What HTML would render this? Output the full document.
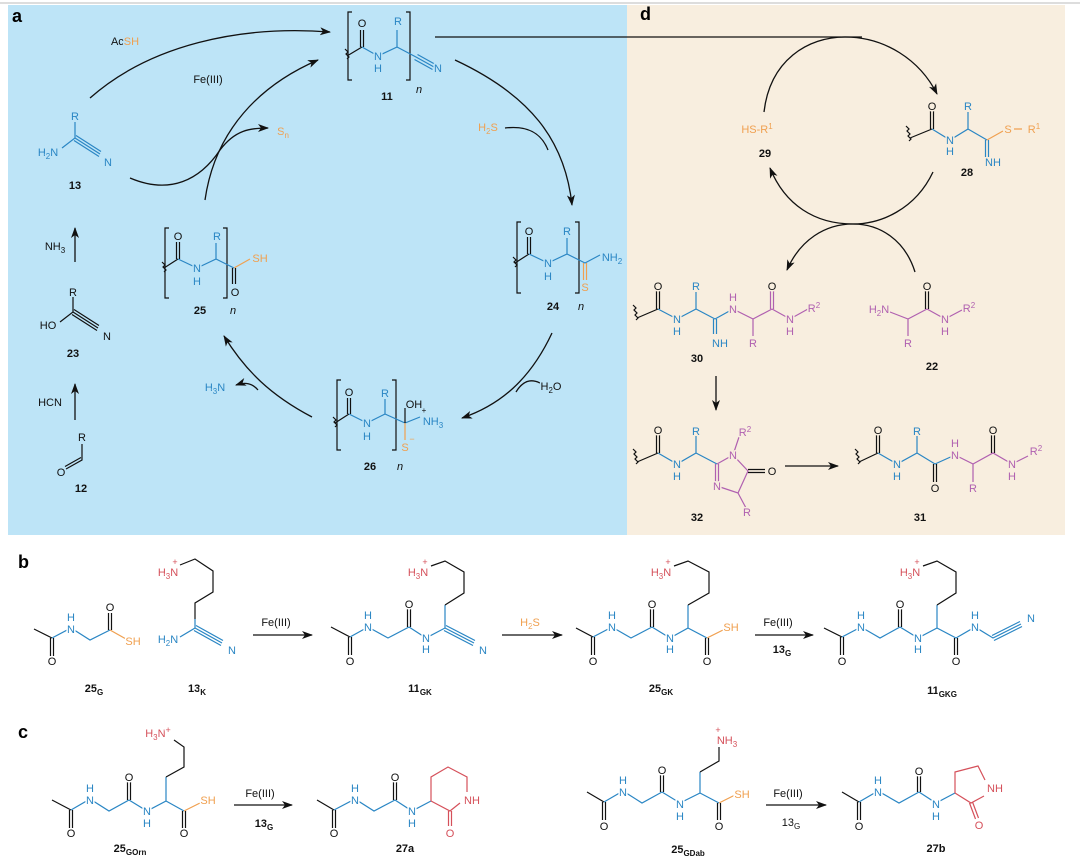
<!DOCTYPE html>
<html><head><meta charset="utf-8"><style>
body{margin:0;background:#fff;}
svg{display:block;font-family:"Liberation Sans",sans-serif;}
text{font-size:11px;text-anchor:middle;paint-order:stroke;stroke-width:3px;stroke-linejoin:round;}
.ga text{stroke:#bde4f7}.gd text{stroke:#f8eedf}.gw text{stroke:#fff}
.k{fill:#111}.b{fill:#2a86c4}.o{fill:#f0a050}.p{fill:#b060b0}.r{fill:#d5505a}
.lb{font-weight:bold;fill:#111}
.pl{font-weight:bold;font-size:18px;text-anchor:start}
path{fill:none;stroke-width:1.2}
path.head{fill:#111;stroke:none}
.sk{stroke:#111}.sb{stroke:#2a86c4}.so{stroke:#f0a050}.sp{stroke:#b060b0}.sr{stroke:#d5505a}
.ar{stroke:#111;stroke-width:1.3}
tspan.s{font-size:8px}
</style></head><body>
<svg width="1080" height="865" viewBox="0 0 1080 865">
<defs><marker id="ah" markerWidth="11" markerHeight="8" refX="10" refY="4" orient="auto" markerUnits="userSpaceOnUse"><path class="head" d="M0,0 L11,4 L0,8 L3,4z"/></marker></defs>
<rect x="0" y="2" width="1080" height="2" fill="#ddd"/>
<rect x="8" y="5" width="619" height="530" fill="#bde4f7"/>
<rect x="627" y="5" width="438" height="530" fill="#f8eedf"/>

<!-- PANEL A -->
<g class="ga">
<text x="12" y="22" class="pl" style="stroke:none">a</text>
<path class="ar" d="M90,98 C150,45 240,25 330,32" marker-end="url(#ah)"/>
<path class="ar" d="M205,200 C215,130 260,85 318,60" marker-end="url(#ah)"/>
<path class="ar" d="M130,178 C170,195 200,180 220,150 C235,130 250,128 268,128" marker-end="url(#ah)"/>
<path class="ar" d="M455,60 C530,95 565,140 572,205" marker-end="url(#ah)"/>
<path class="ar" d="M505,128 C530,125 542,135 548,150"/>
<path class="ar" d="M552,333 C530,380 500,405 462,418" marker-end="url(#ah)"/>
<path class="ar" d="M540,383 C530,378 522,382 516,392"/>
<path class="ar" d="M312,417 C270,395 245,370 224,336" marker-end="url(#ah)"/>
<path class="ar" d="M258,390 C252,383 245,382 236,385" marker-end="url(#ah)"/>
<path class="ar" d="M75,262 L75,228" marker-end="url(#ah)"/>
<path class="ar" d="M75,420 L75,384" marker-end="url(#ah)"/>
<path class="ar" d="M435,37 L862,37"/>
<text x="125" y="45" class="k">Ac<tspan class="o">SH</tspan></text>
<text x="208" y="83" class="k">Fe(III)</text>
<text x="283" y="135" class="o">S<tspan class="s" dy="3">n</tspan></text>
<text x="488" y="131" class="o">H<tspan class="s" dy="3">2</tspan><tspan dy="-3">S</tspan></text>
<text x="551" y="390" class="k">H<tspan class="s" dy="3">2</tspan><tspan dy="-3">O</tspan></text>
<text x="215" y="391" class="b">H<tspan class="s" dy="3">3</tspan><tspan dy="-3">N</tspan></text>
<text x="55" y="250" class="k">NH<tspan class="s" dy="3">3</tspan></text>
<text x="50" y="406" class="k">HCN</text>

<!-- 11 -->
<path class="sk" d="M352,12 h-4 v68 h4 M406,12 h4 v68 h-4"/>
<path class="sk" d="M345,49 l3,3 -2,2 3,3 -2,2 M347,56 L362,47 M360.5,47 V30 M363.5,47 V30"/>
<path class="sb" d="M362,47 L378,56 L397,47 V30 M397,47 L416,57 M416,57 L434,67 M417.5,54.5 L435.5,64.5 M414.5,59.5 L432.5,69.5"/>
<text x="362" y="27" class="k">O</text><text x="378" y="60" class="b">N</text><text x="378" y="72" class="b">H</text>
<text x="398" y="25" class="b">R</text><text x="438" y="72" class="b">N</text>
<text x="387" y="100" class="lb">11</text><text x="419" y="93" class="k" style="font-style:italic">n</text>

<!-- 13 -->
<path class="sb" d="M62,148 L75,138 V122 M75,138 L100,154 M76,135.5 L101,151.5 M74,140.5 L99,156.5"/>
<text x="75" y="120" class="b">R</text><text x="48" y="156" class="b">H<tspan class="s" dy="3">2</tspan><tspan dy="-3">N</tspan></text>
<text x="108" y="166" class="b">N</text><text x="75" y="189" class="lb">13</text>
<!-- 23 -->
<path class="sk" d="M60,322 L73,312 V297 M73,312 L98,328 M74,309.5 L99,325.5 M72,314.5 L97,330.5"/>
<text x="73" y="296" class="k">R</text><text x="48" y="329" class="k">HO</text>
<text x="107" y="340" class="k">N</text><text x="73" y="357" class="lb">23</text>
<!-- 12 -->
<path class="sk" d="M82,444 V460 L66,469 M81,457.5 L65,466.5"/>
<text x="82" y="441" class="k">R</text><text x="61" y="476" class="k">O</text><text x="81" y="492" class="lb">12</text>

<!-- 25 -->
<path class="sk" d="M169,228 h-4 v70 h4 M223,228 h4 v70 h-4"/>
<path class="sk" d="M162,262 l3,3 -2,2 3,3 -2,2 M164,268 L178,259 M176.5,259 V242 M179.5,259 V242"/>
<path class="sb" d="M178,259 L197,268 L216,259 V243 M216,259 L234,268"/>
<path class="sk" d="M232.5,268 V284 M235.5,268 V284"/>
<path class="so" d="M234,268 L250,259"/>
<text x="178" y="240" class="k">O</text><text x="197" y="272" class="b">N</text><text x="197" y="285" class="b">H</text>
<text x="217" y="240" class="b">R</text><text x="260" y="262" class="o">SH</text><text x="235" y="296" class="k">O</text>
<text x="200" y="314" class="lb">25</text><text x="233" y="314" class="k" style="font-style:italic">n</text>

<!-- 24 -->
<path class="sk" d="M521,222 h-4 v71 h4 M575,222 h4 v71 h-4"/>
<path class="sk" d="M513,257 l3,3 -2,2 3,3 -2,2 M515,263 L529,254 M527.5,254 V237 M530.5,254 V237"/>
<path class="sb" d="M529,254 L548,263 L567,254 V238 M567,254 L585,263 L600,255"/>
<path class="so" d="M583.5,263 V280 M586.5,263 V280"/>
<text x="529" y="235" class="k">O</text><text x="548" y="267" class="b">N</text><text x="548" y="280" class="b">H</text>
<text x="567" y="235" class="b">R</text><text x="612" y="261" class="b">NH<tspan class="s" dy="3">2</tspan></text>
<text x="585" y="291" class="o">S</text>
<text x="553" y="310" class="lb">24</text><text x="581" y="310" class="k" style="font-style:italic">n</text>

<!-- 26 -->
<path class="sk" d="M341,380 h-4 v70 h4 M392,380 h4 v70 h-4"/>
<path class="sk" d="M333,417 l3,3 -2,2 3,3 -2,2 M335,423 L349,414 M347.5,414 V398 M350.5,414 V398"/>
<path class="sb" d="M349,414 L367,423 L385,414 V399 M385,414 L405,423 L420,417"/>
<path class="sk" d="M405,423 V408"/>
<path class="so" d="M405,423 V440"/>
<text x="349" y="396" class="k">O</text><text x="367" y="427" class="b">N</text><text x="367" y="440" class="b">H</text>
<text x="385" y="397" class="b">R</text><text x="414" y="408" class="k">OH</text>
<text x="433" y="425" class="b">NH<tspan class="s" dy="3">3</tspan></text><text x="424" y="413" class="k" style="font-size:8px">+</text>
<text x="405" y="451" class="o">S</text><text x="412" y="442" class="o" style="font-size:9px">−</text>
<text x="370" y="470" class="lb">26</text><text x="400" y="470" class="k" style="font-style:italic">n</text>
</g>

<!-- PANEL D -->
<g class="gd">
<text x="640" y="20" class="pl" style="stroke:none">d</text>
<path class="ar" d="M764,112 C770,60 808,37 845,37 C885,37 920,60 937,94" marker-end="url(#ah)"/>
<path class="ar" d="M933,172 C915,210 880,224 853,224 C815,224 785,205 770,168" marker-end="url(#ah)"/>
<path class="ar" d="M915,272 C905,240 880,224 853,224 C825,224 800,240 787,270" marker-end="url(#ah)"/>
<path class="ar" d="M716,376 V410" marker-end="url(#ah)"/>
<path class="ar" d="M785,466 H838" marker-end="url(#ah)"/>
<text x="757" y="133" class="o">HS-R<tspan class="s" dy="-4">1</tspan></text>
<text x="765" y="157" class="lb">29</text>
<!-- 28 -->
<path class="sk" d="M906,126 l3,3 -2,2 3,3 -2,2 3,3 -2,2 M910,138 L932,129 M930.5,129 V111 M933.5,129 V111"/>
<path class="sb" d="M932,129 L950,140 L968,129 V112 M968,129 L987,140 M985.5,140 V157 M988.5,140 V157"/>
<path class="so" d="M987,140 L1003,131 M1014,129 H1022"/>
<text x="932" y="110" class="k">O</text><text x="950" y="144" class="b">N</text><text x="950" y="155" class="b">H</text>
<text x="968" y="110" class="b">R</text><text x="1008" y="133" class="o">S</text><text x="1034" y="133" class="o">R<tspan class="s" dy="-4">1</tspan></text>
<text x="993" y="166" class="b">NH</text><text x="967" y="176" class="lb">28</text>
<!-- 30 -->
<path class="sk" d="M633,305 l3,3 -2,2 3,3 -2,2 3,3 -2,2 M637,318 L658,309 M656.5,309 V291 M659.5,309 V291"/>
<path class="sb" d="M658,309 L677,319 L696,309 V292 M696,309 L715,319 M713.5,319 V334 M716.5,319 V334 M715,319 L733,309"/>
<path class="sp" d="M733,309 L753,319 V336 M753,319 L772,309 M770.5,309 V291 M773.5,309 V291 M772,309 L790,319 L808,309"/>
<text x="658" y="290" class="k">O</text><text x="677" y="323" class="b">N</text><text x="677" y="335" class="b">H</text>
<text x="696" y="290" class="b">R</text><text x="720" y="347" class="b">NH</text>
<text x="733" y="313" class="p">N</text><text x="733" y="301" class="p">H</text>
<text x="753" y="347" class="p">R</text><text x="772" y="290" class="k">O</text>
<text x="790" y="323" class="p">N</text><text x="790" y="335" class="p">H</text>
<text x="814" y="312" class="p">R<tspan class="s" dy="-4">2</tspan></text>
<text x="697" y="362" class="lb">30</text>
<!-- 22 -->
<path class="sp" d="M890,312 L908,319 V336 M908,319 L927,309 M945,319 L962,310"/>
<path class="sk" d="M925.5,309 V291 M928.5,309 V291"/>
<path class="sp" d="M927,309 L945,319"/>
<text x="879" y="313" class="p">H<tspan class="s" dy="3">2</tspan><tspan dy="-3">N</tspan></text>
<text x="927" y="290" class="k">O</text><text x="945" y="323" class="p">N</text><text x="945" y="335" class="p">H</text>
<text x="969" y="312" class="p">R<tspan class="s" dy="-4">2</tspan></text><text x="908" y="347" class="p">R</text>
<text x="932" y="370" class="lb">22</text>
<!-- 32 -->
<path class="sk" d="M633,449 l3,3 -2,2 3,3 -2,2 3,3 -2,2 M637,462 L658,453 M656.5,453 V435 M659.5,453 V435"/>
<path class="sb" d="M658,453 L677,464 L696,453 V436 M696,453 L717,464"/>
<path class="sp" d="M717,464 L733,455 L748,471 L738,493 L717,486 M733,455 L739,437 M738,493 L746,508 M715.5,464 V484 M718.5,464 V484"/>
<path class="sk" d="M748,469.5 H765 M748,472.5 H765"/>
<text x="658" y="434" class="k">O</text><text x="677" y="468" class="b">N</text><text x="677" y="480" class="b">H</text>
<text x="696" y="435" class="b">R</text><text x="733" y="459" class="p">N</text>
<text x="745" y="436" class="p">R<tspan class="s" dy="-4">2</tspan></text><text x="772" y="475" class="k">O</text>
<text x="717" y="490" class="p">N</text><text x="747" y="516" class="p">R</text>
<text x="697" y="521" class="lb">32</text>
<!-- 31 -->
<path class="sk" d="M855,449 l3,3 -2,2 3,3 -2,2 3,3 -2,2 M859,462 L878,453 M876.5,453 V435 M879.5,453 V435"/>
<path class="sb" d="M878,453 L897,464 L917,453 V436 M917,453 L935,464 L955,455"/>
<path class="sk" d="M933.5,464 V482 M936.5,464 V482 M991.5,453 V435 M994.5,453 V435"/>
<path class="sp" d="M955,455 L973,464 V482 M973,464 L993,453 L1012,464 L1028,456"/>
<text x="878" y="434" class="k">O</text><text x="897" y="468" class="b">N</text><text x="897" y="480" class="b">H</text>
<text x="917" y="435" class="b">R</text><text x="935" y="492" class="k">O</text>
<text x="955" y="459" class="p">N</text><text x="955" y="447" class="p">H</text>
<text x="973" y="492" class="p">R</text><text x="993" y="434" class="k">O</text>
<text x="1012" y="468" class="p">N</text><text x="1012" y="480" class="p">H</text>
<text x="1036" y="455" class="p">R<tspan class="s" dy="-4">2</tspan></text>
<text x="920" y="521" class="lb">31</text>
</g>

<!-- PANEL B -->
<g class="gw">
<text x="18" y="568" class="pl" style="stroke:none">b</text>
<path class="sk" d="M34,629 L52,638 M50.5,638 V656 M53.5,638 V656"/>
<path class="sb" d="M52,638 L71,628 L90,640 L110,630"/>
<path class="sk" d="M108.5,630 V613 M111.5,630 V613"/>
<path class="so" d="M110,630 L126,639"/>
<text x="52" y="665" class="k">O</text><text x="71" y="633" class="b">N</text><text x="71" y="621" class="b">H</text>
<text x="110" y="611" class="k">O</text><text x="133" y="645" class="o">SH</text>
<text x="94" y="692" class="lb">25<tspan class="s" dy="3">G</tspan></text>
<path class="sk" d="M180,565 L195,559 L213,571 V592 L195,603 V619"/>
<path class="sb" d="M195,619 V628 L180,637 M195,628 L222,643 M196,625.5 L223,640.5 M194,630.5 L221,645.5"/>
<text x="168" y="576" class="r">H<tspan class="s" dy="3">3</tspan><tspan dy="-3">N</tspan></text><text x="175" y="565" class="r" style="font-size:9px">+</text>
<text x="168" y="643" class="b">H<tspan class="s" dy="3">2</tspan><tspan dy="-3">N</tspan></text>
<text x="232" y="654" class="b">N</text>
<text x="197" y="692" class="lb">13<tspan class="s" dy="3">K</tspan></text>
<path class="ar" d="M253,635 H312" marker-end="url(#ah)"/>
<text x="276" y="626" class="k">Fe(III)</text>
<path class="sk" d="M331,627 L350,637 M348.5,637 V655 M351.5,637 V655"/>
<path class="sb" d="M350,637 L368,627 L388,638 L409,627 M409,627 L426,638 L445,628 L474,643 M446,625.5 L475,640.5 M444,630.5 L473,645.5 M445,628 V605"/>
<path class="sk" d="M407.5,627 V609 M410.5,627 V609 M445,605 L464,593 V572 L445,561 L431,566"/>
<text x="350" y="665" class="k">O</text><text x="368" y="631" class="b">N</text><text x="368" y="619" class="b">H</text>
<text x="409" y="608" class="k">O</text><text x="426" y="642" class="b">N</text><text x="426" y="653" class="b">H</text>
<text x="418" y="576" class="r">H<tspan class="s" dy="3">3</tspan><tspan dy="-3">N</tspan></text><text x="425" y="565" class="r" style="font-size:9px">+</text>
<text x="483" y="654" class="b">N</text>
<text x="420" y="692" class="lb">11<tspan class="s" dy="3">GK</tspan></text>
<path class="ar" d="M502,635 H562" marker-end="url(#ah)"/>
<text x="530" y="626" class="o">H<tspan class="s" dy="3">2</tspan><tspan dy="-3">S</tspan></text>
<path class="sk" d="M576,628 L593,637 M591.5,637 V655 M594.5,637 V655"/>
<path class="sb" d="M593,637 L612,627 L631,638 L652,627 M652,627 L670,638 L688,628 V605 M688,628 L707,638"/>
<path class="sk" d="M650.5,627 V609 M653.5,627 V609 M688,605 L709,593 V572 L688,561 L674,566 M705.5,638 V655 M708.5,638 V655"/>
<path class="so" d="M707,638 L723,630"/>
<text x="593" y="665" class="k">O</text><text x="612" y="631" class="b">N</text><text x="612" y="619" class="b">H</text>
<text x="652" y="608" class="k">O</text><text x="670" y="642" class="b">N</text><text x="670" y="653" class="b">H</text>
<text x="661" y="576" class="r">H<tspan class="s" dy="3">3</tspan><tspan dy="-3">N</tspan></text><text x="668" y="565" class="r" style="font-size:9px">+</text>
<text x="707" y="665" class="k">O</text><text x="731" y="631" class="o">SH</text>
<text x="661" y="692" class="lb">25<tspan class="s" dy="3">GK</tspan></text>
<path class="ar" d="M755,635 H813" marker-end="url(#ah)"/>
<text x="778" y="626" class="k">Fe(III)</text><text x="782" y="653" class="lb">13<tspan class="s" dy="3">G</tspan></text>
<path class="sk" d="M824,628 L842,637 M840.5,637 V655 M843.5,637 V655"/>
<path class="sb" d="M842,637 L861,627 L880,638 L900,627 M900,627 L918,638 L937,628 V605 M937,628 L956,638 L975,627 L993,638 L1021,624 M992,635.5 L1020,621.5 M994,640.5 L1022,626.5"/>
<path class="sk" d="M898.5,627 V609 M901.5,627 V609 M937,605 L956,593 V572 L937,561 L923,566 M954.5,638 V655 M957.5,638 V655"/>
<text x="842" y="665" class="k">O</text><text x="861" y="631" class="b">N</text><text x="861" y="619" class="b">H</text>
<text x="900" y="608" class="k">O</text><text x="918" y="642" class="b">N</text><text x="918" y="653" class="b">H</text>
<text x="910" y="576" class="r">H<tspan class="s" dy="3">3</tspan><tspan dy="-3">N</tspan></text><text x="917" y="565" class="r" style="font-size:9px">+</text>
<text x="956" y="665" class="k">O</text><text x="975" y="631" class="b">N</text><text x="975" y="619" class="b">H</text>
<text x="1031" y="622" class="b">N</text>
<text x="942" y="694" class="lb">11<tspan class="s" dy="3">GKG</tspan></text>

<!-- PANEL C -->
<text x="18" y="738" class="pl" style="stroke:none">c</text>
<path class="sk" d="M52,800 L71,810 M69.5,810 V828 M72.5,810 V828"/>
<path class="sb" d="M71,810 L90,799 L109,811 L129,800 M129,800 L147,811 L166,801 V777 M166,801 L184,811"/>
<path class="sk" d="M127.5,800 V782 M130.5,800 V782 M166,777 L184,767 V747 L174,740 M182.5,811 V828 M185.5,811 V828"/>
<path class="so" d="M184,811 L200,803"/>
<text x="71" y="837" class="k">O</text><text x="90" y="804" class="b">N</text><text x="90" y="792" class="b">H</text>
<text x="129" y="781" class="k">O</text><text x="147" y="815" class="b">N</text><text x="147" y="827" class="b">H</text>
<text x="158" y="737" class="r">H<tspan class="s" dy="3">3</tspan><tspan dy="-3">N</tspan><tspan dy="-4" style="font-size:9px">+</tspan></text>
<text x="184" y="837" class="k">O</text><text x="208" y="804" class="o">SH</text>
<text x="130" y="852" class="lb">25<tspan class="s" dy="3">GOrn</tspan></text>
<path class="ar" d="M234,805 H292" marker-end="url(#ah)"/>
<text x="260" y="797" class="k">Fe(III)</text><text x="264" y="827" class="lb">13<tspan class="s" dy="3">G</tspan></text>
<path class="sk" d="M317,800 L334,810 M332.5,810 V828 M335.5,810 V828"/>
<path class="sb" d="M334,810 L355,799 L374,811 L395,800 M395,800 L412,811 L431,801"/>
<path class="sk" d="M393.5,800 V782 M396.5,800 V782"/>
<path class="sr" d="M431,801 V777 L448,767 L467,777 V792 M460,803 L450,811 L431,801 M448.5,811 V826 M451.5,811 V826"/>
<text x="334" y="837" class="k">O</text><text x="355" y="804" class="b">N</text><text x="355" y="792" class="b">H</text>
<text x="395" y="781" class="k">O</text><text x="412" y="815" class="b">N</text><text x="412" y="827" class="b">H</text>
<text x="472" y="804" class="r">NH</text><text x="450" y="837" class="r">O</text>
<text x="405" y="852" class="lb">27a</text>
<path class="sk" d="M587,792 L604,802 M602.5,802 V820 M605.5,802 V820"/>
<path class="sb" d="M604,802 L623,791 L642,803 L662,792 M662,792 L680,803 L700,793 V772 M700,793 L719,803"/>
<path class="sk" d="M660.5,792 V775 M663.5,792 V775 M700,772 L719,761 V747 M717.5,803 V820 M720.5,803 V820"/>
<path class="so" d="M719,803 L735,795"/>
<text x="604" y="830" class="k">O</text><text x="623" y="796" class="b">N</text><text x="623" y="784" class="b">H</text>
<text x="662" y="774" class="k">O</text><text x="680" y="808" class="b">N</text><text x="680" y="820" class="b">H</text>
<text x="727" y="744" class="r">NH<tspan class="s" dy="3">3</tspan></text><text x="718" y="733" class="r" style="font-size:9px">+</text>
<text x="719" y="830" class="k">O</text><text x="742" y="798" class="o">SH</text>
<text x="688" y="853" class="lb">25<tspan class="s" dy="3">GDab</tspan></text>
<path class="ar" d="M766,805 H826" marker-end="url(#ah)"/>
<text x="788" y="797" class="k">Fe(III)</text><text x="791" y="826" class="k">13<tspan class="s" dy="3">G</tspan></text>
<path class="sk" d="M842,792 L859,802 M857.5,802 V820 M860.5,802 V820"/>
<path class="sb" d="M859,802 L878,791 L899,803 L919,792 M919,792 L936,803 L955,793"/>
<path class="sk" d="M917.5,792 V775 M920.5,792 V775"/>
<path class="sr" d="M955,793 L955,772 L978,766 L985,780 M984,796 L971,803 L955,793 M969.5,803 L975.5,819 M972.5,802 L978.5,818"/>
<text x="859" y="830" class="k">O</text><text x="878" y="796" class="b">N</text><text x="878" y="784" class="b">H</text>
<text x="919" y="775" class="k">O</text><text x="936" y="808" class="b">N</text><text x="936" y="820" class="b">H</text>
<text x="995" y="792" class="r">NH</text><text x="979" y="829" class="r">O</text>
<text x="936" y="852" class="lb">27b</text>
</g>
</svg>
</body></html>
